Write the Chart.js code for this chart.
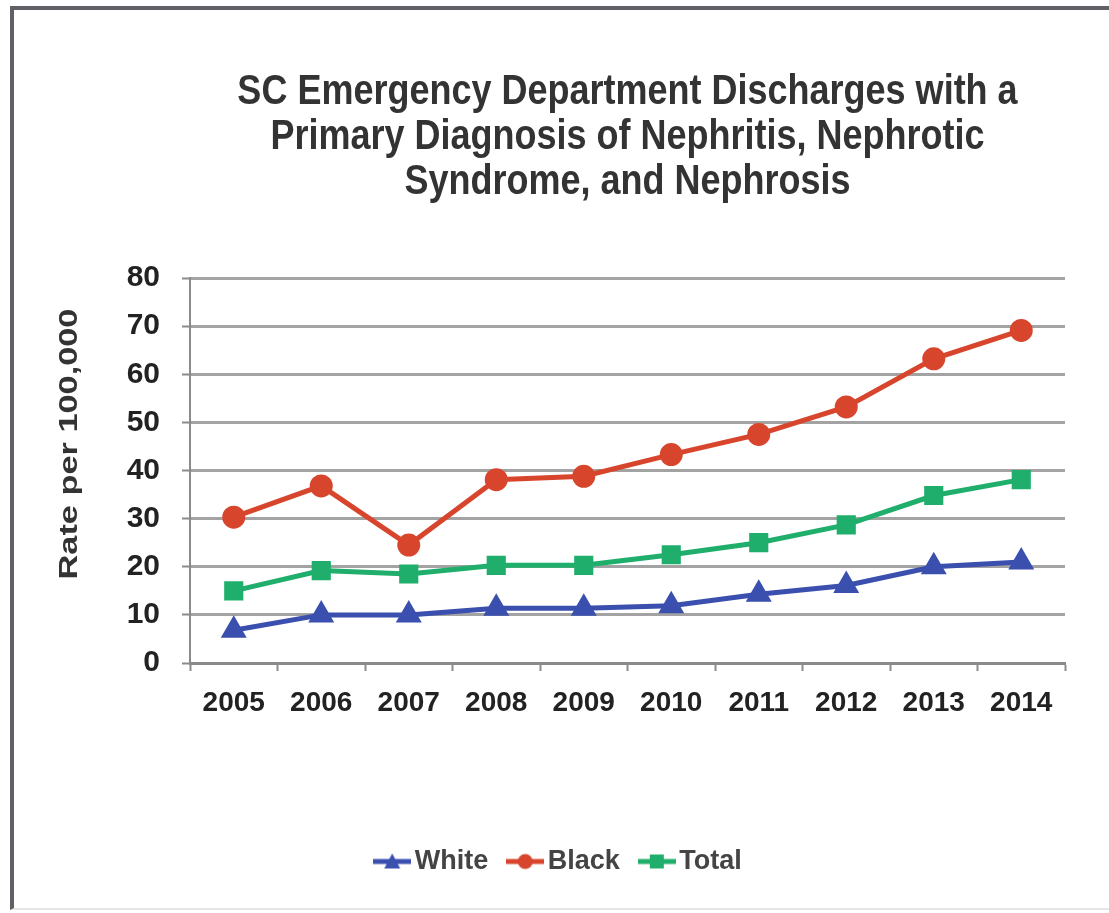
<!DOCTYPE html>
<html>
<head>
<meta charset="utf-8">
<script src="https://cdn.jsdelivr.net/npm/chart.js@4.4.1/dist/chart.umd.min.js"></script>
<style>
  html, body { margin: 0; padding: 0; background: #ffffff; }
  #wrap { position: relative; width: 1109px; height: 913px; overflow: hidden; }
  #frame {
    position: absolute; left: 10px; top: 6px; width: 1120px; height: 904px;
    border-left: 4px solid #5f6166; border-top: 4px solid #5f6166;
    border-bottom: 2px solid #e6e6e6; box-sizing: border-box;
  }
  canvas { position: absolute; left: 0; top: 0; }
</style>
</head>
<body>
<div id="wrap">
  <div id="frame"></div>
  <canvas id="chart" width="1109" height="913"></canvas>
</div>
<script>
// Emergency department discharge rates per 100,000 by race
const years = ['2005', '2006', '2007', '2008', '2009', '2010', '2011', '2012', '2013', '2014'];
const white = [6.8, 10.0, 10.0, 11.4, 11.4, 11.9, 14.3, 16.1, 20.0, 21.0];
const black = [30.3, 36.8, 24.5, 38.1, 38.8, 43.3, 47.5, 53.2, 63.2, 69.1];
const total = [15.0, 19.2, 18.5, 20.3, 20.3, 22.5, 25.0, 28.7, 34.8, 38.1];
const yTicks = [0, 10, 20, 30, 40, 50, 60, 70, 80];

const titleLines = [
  'SC Emergency Department Discharges with a',
  'Primary Diagnosis of Nephritis, Nephrotic',
  'Syndrome, and Nephrosis'
];
const yTitle = 'Rate per 100,000';

const BLUE = '#3a4fae';
const RED = '#d8452d';
const GREEN = '#1fae6b';
const FONT = "'Liberation Sans', Arial, sans-serif";

// Legend swatch: a short line with the series marker in the middle
function swatch(color, style) {
  const c = document.createElement('canvas');
  c.width = 38; c.height = 18;
  const g = c.getContext('2d');
  g.strokeStyle = color; g.fillStyle = color; g.lineWidth = 5;
  g.beginPath(); g.moveTo(0, 9); g.lineTo(38, 9); g.stroke();
  g.beginPath();
  if (style === 'triangle') { g.moveTo(19, 1); g.lineTo(27, 16); g.lineTo(11, 16); g.closePath(); }
  else if (style === 'circle') { g.arc(19, 9, 7.5, 0, Math.PI * 2); }
  else { g.rect(12, 2, 14, 14); }
  g.fill();
  return c;
}

// Chart title centred over the plot area, and the rotated y-axis title
const headings = {
  id: 'headings',
  afterDraw(chart) {
    const { ctx, chartArea } = chart;
    ctx.save();
    ctx.fillStyle = '#333333';
    ctx.textAlign = 'center';
    ctx.textBaseline = 'alphabetic';
    ctx.font = 'bold 36px ' + FONT;
    const cx = (chartArea.left + chartArea.right) / 2;
    titleLines.forEach((line, i) => {
      ctx.save();
      ctx.translate(cx, 104 + i * 45);
      ctx.scale(1, 1.2);
      ctx.fillText(line, 0, 0);
      ctx.restore();
    });
    ctx.font = 'bold 26px ' + FONT;
    ctx.translate(77, 444);
    ctx.rotate(-Math.PI / 2);
    ctx.scale(1.32, 1);
    ctx.fillText(yTitle, 0, 0);
    ctx.restore();
  }
};

new Chart(document.getElementById('chart'), {
  type: 'line',
  data: {
    labels: years,
    datasets: [
      { label: 'White', data: white, borderColor: BLUE, backgroundColor: BLUE,
        borderWidth: 5, pointStyle: 'triangle', pointRadius: 10, pointHoverRadius: 10,
        legendImg: swatch(BLUE, 'triangle') },
      { label: 'Black', data: black, borderColor: RED, backgroundColor: RED,
        borderWidth: 5, pointStyle: 'circle', pointRadius: 9, pointHoverRadius: 9,
        legendImg: swatch(RED, 'circle') },
      { label: 'Total', data: total, borderColor: GREEN, backgroundColor: GREEN,
        borderWidth: 5, pointStyle: 'rect', pointRadius: 10, pointHoverRadius: 10,
        legendImg: swatch(GREEN, 'rect') }
    ]
  },
  options: {
    responsive: false,
    animation: false,
    layout: { padding: { left: 60, right: 44, top: 278, bottom: 28 } },
    plugins: {
      tooltip: { enabled: false },
      title: { display: false },
      legend: {
        position: 'bottom',
        labels: {
          usePointStyle: true,
          pointStyleWidth: 18,
          color: '#444444',
          font: { family: FONT, size: 27, weight: 'bold' },
          padding: 28,
          generateLabels(chart) {
            return chart.data.datasets.map((ds, i) => ({
              text: ds.label,
              fillStyle: ds.borderColor,
              strokeStyle: ds.borderColor,
              pointStyle: ds.legendImg,
              fontColor: '#444444',
              hidden: false,
              datasetIndex: i
            }));
          }
        }
      }
    },
    scales: {
      x: {
        offset: true,
        grid: { display: true, drawOnChartArea: false, drawTicks: true, offset: true,
                tickLength: 8, tickColor: '#8a8a8a', tickWidth: 2 },
        border: { display: true, color: '#8a8a8a', width: 3 },
        ticks: { color: '#222222', padding: 15, maxRotation: 0,
                 font: { family: FONT, size: 28, weight: 'bold' } },
        afterFit(scale) { scale.height = 157; }
      },
      y: {
        min: 0, max: 80,
        afterBuildTicks(scale) { scale.ticks = yTicks.map(v => ({ value: v })); },
        grid: { color: '#a3a3a3', lineWidth: 3, borderDash: [2, 2], drawTicks: true,
                tickLength: 8, tickColor: '#8a8a8a', tickWidth: 2, tickBorderDash: [] },
        border: { display: true, color: '#8a8a8a', width: 2 },
        ticks: { color: '#222222', padding: 22,
                 font: { family: FONT, size: 30, weight: 'bold' } },
        afterFit(scale) { scale.width = 130; }
      }
    }
  },
  plugins: [headings]
});
</script>
</body>
</html>
